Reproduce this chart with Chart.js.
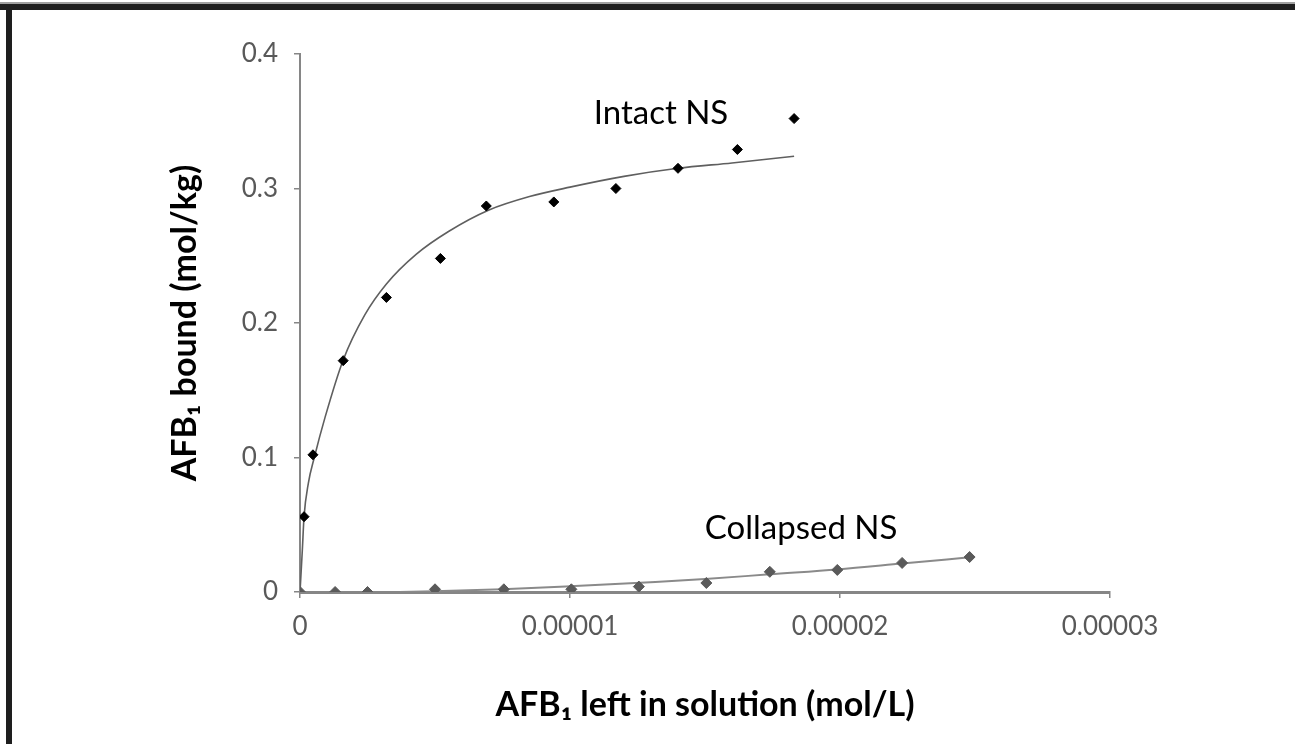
<!DOCTYPE html>
<html><head><meta charset="utf-8">
<script src="https://cdn.jsdelivr.net/npm/chart.js@4/dist/chart.umd.min.js"></script>
<style>html,body{margin:0;padding:0;background:#fff;}canvas{display:block;}</style>
</head><body>
<canvas id="c" width="1295" height="744"></canvas>
<script>
// ---- data ----
const intactX = [1.5e-7, 4.8e-7, 1.6e-6, 3.2e-6, 5.2e-6, 6.9e-6, 9.4e-6, 1.17e-5, 1.40e-5, 1.62e-5, 1.83e-5];
const intactY = [0.056, 0.102, 0.172, 0.219, 0.248, 0.287, 0.290, 0.300, 0.315, 0.329, 0.352];

const collapsedX = [0, 1.3e-6, 2.5e-6, 5.0e-6, 7.55e-6, 1.005e-5, 1.255e-5, 1.505e-5, 1.74e-5, 1.99e-5, 2.23e-5, 2.48e-5];
const collapsedY = [0, 0, 0, 0.002, 0.002, 0.002, 0.004, 0.0067, 0.015, 0.0164, 0.0216, 0.026];

// fitted curves
const intactFitX = [0, 8.6e-8, 1.5e-7, 3.1e-7, 5.3e-7, 9.3e-7, 1.6e-6, 2.4e-6, 3.2e-6, 4.3e-6, 5.5e-6, 7.0e-6, 8.5e-6, 1.0e-5, 1.2e-5, 1.4e-5, 1.6e-5, 1.83e-5];
const intactFitY = [0, 0.031, 0.056, 0.081, 0.100, 0.130, 0.1725, 0.206, 0.229, 0.251, 0.268, 0.284, 0.294, 0.301, 0.309, 0.315, 0.319, 0.324];

const collapsedFitX = [3.7e-6, 7.5e-6, 1.0e-5, 1.26e-5, 1.5e-5, 1.74e-5, 1.99e-5, 2.23e-5, 2.48e-5];
const collapsedFitY = [0, 0.002, 0.0042, 0.0069, 0.0096, 0.0132, 0.0168, 0.0212, 0.0258];

const xTicks = [0, 0.00001, 0.00002, 0.00003];
const yTicks = [0, 0.1, 0.2, 0.3, 0.4];

const seriesLabels = [
  {text: 'Intact NS', x: 1.337e-5, y: 0.356},
  {text: 'Collapsed NS', x: 1.856e-5, y: 0.0476}
];

const xTitle = 'AFB\u2081 left in solution (mol/L)';
const yTitle = 'AFB\u2081 bound (mol/kg)';

// ---- build ----
const pts = (xs, ys) => xs.map((x, i) => ({x, y: ys[i]}));
const FONT = 'Lato, "Open Sans", sans-serif';

const framePlugin = {
  id: 'frame',
  beforeDraw(chart) {
    const ctx = chart.ctx;
    ctx.save();
    ctx.fillStyle = '#fff';
    ctx.fillRect(0, 0, chart.width, chart.height);
    ctx.fillStyle = '#a0a0a0';
    ctx.fillRect(0, 2, chart.width, 2);
    ctx.fillStyle = '#1e1e1e';
    ctx.fillRect(0, 4, chart.width, 6);
    ctx.fillRect(6, 4, 6, chart.height - 4);
    ctx.restore();
  },
  afterDatasetsDraw(chart) {
    const ctx = chart.ctx, xs = chart.scales.x, ys = chart.scales.y;
    ctx.save();
    ctx.font = '33px ' + FONT;
    ctx.fillStyle = '#000';
    ctx.textAlign = 'center';
    ctx.textBaseline = 'middle';
    seriesLabels.forEach(l => ctx.fillText(l.text, xs.getPixelForValue(l.x), ys.getPixelForValue(l.y)));
    ctx.restore();
  }
};

new Chart(document.getElementById('c'), {
  type: 'scatter',
  data: {
    datasets: [
      {label: 'Intact NS', data: pts(intactX, intactY), pointStyle: 'rectRot', pointRadius: 5,
       backgroundColor: '#000', borderColor: '#000', borderWidth: 1, showLine: false},
      {label: 'Collapsed NS', data: pts(collapsedX, collapsedY), pointStyle: 'rectRot', pointRadius: 5.5,
       backgroundColor: '#5a5a5a', borderColor: '#5a5a5a', borderWidth: 1, showLine: false},
      {label: 'Intact fit', data: pts(intactFitX, intactFitY), showLine: true, pointRadius: 0,
       borderColor: '#5f5f5f', borderWidth: 1.6, cubicInterpolationMode: 'monotone', fill: false},
      {label: 'Collapsed fit', data: pts(collapsedFitX, collapsedFitY), showLine: true, pointRadius: 0,
       borderColor: '#8a8a8a', borderWidth: 2, cubicInterpolationMode: 'monotone', fill: false}
    ]
  },
  options: {
    responsive: false,
    animation: false,
    events: [],
    layout: {padding: {left: 161, right: 185, top: 54, bottom: 15}},
    plugins: {legend: {display: false}, tooltip: {enabled: false}},
    scales: {
      x: {
        type: 'linear', min: xTicks[0], max: xTicks[xTicks.length - 1],
        afterBuildTicks: s => { s.ticks = xTicks.map(v => ({value: v})); },
        afterFit: s => { s.height = 137; },
        ticks: {
          font: {family: FONT, size: 26}, color: '#595959', padding: 13, maxRotation: 0,
          callback: v => v === 0 ? '0' : Number(v).toFixed(5)
        },
        grid: {display: true, drawOnChartArea: false, drawTicks: true, tickLength: 6, color: '#868686', lineWidth: 1.5},
        border: {display: true, color: '#868686', width: 3},
        title: {display: true, text: xTitle, color: '#000', font: {family: FONT, size: 34, weight: 'bold'}, padding: {top: 4, bottom: 4}}
      },
      y: {
        type: 'linear', min: yTicks[0], max: yTicks[yTicks.length - 1],
        afterBuildTicks: s => { s.ticks = yTicks.map(v => ({value: v})); },
        afterFit: s => { s.width = 139; },
        ticks: {
          font: {family: FONT, size: 26}, color: '#595959', padding: 16,
          callback: v => v === 0 ? '0' : Number(v).toFixed(1)
        },
        grid: {display: true, drawOnChartArea: false, drawTicks: true, tickLength: 6, color: '#868686', lineWidth: 1.5},
        border: {display: true, color: '#868686', width: 2},
        title: {display: true, text: yTitle, color: '#000', font: {family: FONT, size: 34, weight: 'bold'}, padding: {top: 4, bottom: 4}}
      }
    }
  },
  plugins: [framePlugin]
});
</script>
</body></html>
